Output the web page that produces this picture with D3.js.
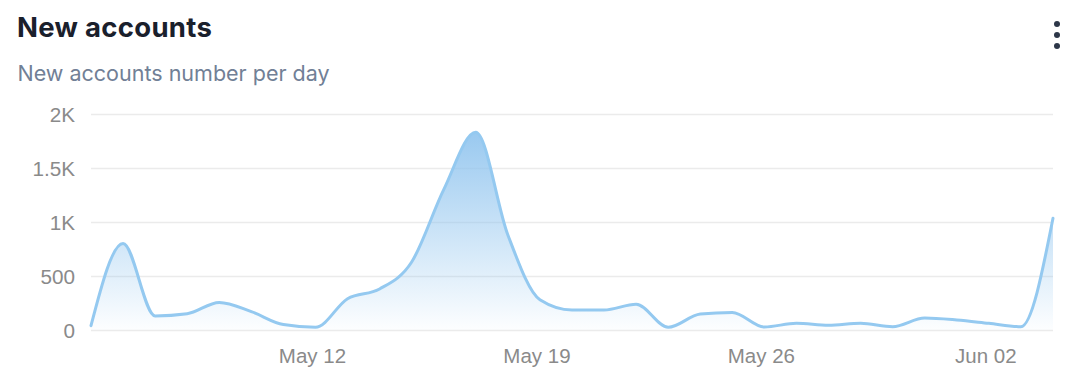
<!DOCTYPE html>
<html>
<head>
<meta charset="utf-8">
<script src="https://cdn.jsdelivr.net/npm/d3@7"></script>
<style>
  html, body { margin: 0; padding: 0; background: #fff; }
  svg { display: block; }
</style>
</head>
<body>
<svg id="chart" width="1080" height="384"></svg>
<script>
const title = "New accounts";
const subtitle = "New accounts number per day";
const startDate = "2024-05-05";
const values = [40, 800, 130, 150, 255, 170, 50, 25, 290, 380, 630, 1300, 1830, 880, 280,
                185, 185, 238, 25, 148, 163, 28, 62, 43, 62, 31, 111, 93, 62, 31, 1034];
const yTicks = [0, 500, 1000, 1500, 2000];
const yTickLabels = ["0", "500", "1K", "1.5K", "2K"];
const xTickDates = ["2024-05-12", "2024-05-19", "2024-05-26", "2024-06-02"];
const xTickLabels = ["May 12", "May 19", "May 26", "Jun 02"];

const parse = d3.utcParse("%Y-%m-%d");
const t0 = parse(startDate);
const data = values.map((v, i) => ({ date: d3.utcDay.offset(t0, i), value: v }));

const svg = d3.select("#chart");
const margin = { left: 91, right: 27, top: 114, bottom: 54 };
const W = 1080, H = 384;
const tickFont = "'Liberation Sans', Arial, Helvetica, sans-serif";

const x = d3.scaleUtc()
  .domain(d3.extent(data, d => d.date))
  .range([margin.left, W - margin.right]);
const y = d3.scaleLinear()
  .domain([0, 2000])
  .range([H - margin.bottom, margin.top]);

// Title & subtitle
svg.append("text").attr("x", 17).attr("y", 37)
  .attr("font-family", "Inter, sans-serif").attr("font-weight", 700)
  .attr("font-size", 27.5).attr("letter-spacing", 0.3).attr("fill", "#1a202c").text(title);
svg.append("text").attr("x", 17.5).attr("y", 81)
  .attr("font-family", "Inter, sans-serif").attr("font-weight", 400)
  .attr("font-size", 21.5).attr("fill", "#718096").text(subtitle);

// Menu dots
svg.append("g").selectAll("circle").data([24, 35, 46]).join("circle")
  .attr("cx", 1057).attr("cy", d => d).attr("r", 3).attr("fill", "#2d3748");

// Gridlines + y axis
const yAxis = d3.axisLeft(y).tickValues(yTicks)
  .tickFormat((d, i) => yTickLabels[i])
  .tickSize(-(W - margin.left - margin.right)).tickPadding(16);
const gy = svg.append("g").attr("transform", `translate(${margin.left},0)`).call(yAxis);
gy.select(".domain").remove();
gy.selectAll(".tick line").attr("stroke", "#ebebeb").attr("stroke-width", 1.5);
gy.selectAll(".tick text").attr("font-family", tickFont).attr("font-size", 20.7)
  .attr("dy", "0.36em").attr("fill", "#8a8a8a");

// X axis
const xAxis = d3.axisBottom(x).tickValues(xTickDates.map(parse))
  .tickFormat((d, i) => xTickLabels[i]).tickSize(0).tickPadding(18);
const gx = svg.append("g").attr("transform", `translate(0,${H - margin.bottom})`).call(xAxis);
gx.select(".domain").remove();
gx.selectAll(".tick text").attr("font-family", tickFont).attr("font-size", 20.5)
  .attr("fill", "#8a8a8a").attr("dx", -3.5);

// Gradient
const defs = svg.append("defs");
const grad = defs.append("linearGradient").attr("id", "areaGrad")
  .attr("x1", 0).attr("y1", 0).attr("x2", 0).attr("y2", 1);
grad.append("stop").attr("offset", "0%").attr("stop-color", "#8ec3ee").attr("stop-opacity", 0.9);
grad.append("stop").attr("offset", "100%").attr("stop-color", "#8ec3ee").attr("stop-opacity", 0.02);

const area = d3.area().curve(d3.curveMonotoneX)
  .x(d => x(d.date)).y0(y(0)).y1(d => y(d.value));
const line = d3.line().curve(d3.curveMonotoneX)
  .x(d => x(d.date)).y(d => y(d.value));

svg.append("path").datum(data).attr("d", area).attr("fill", "url(#areaGrad)");
svg.append("path").datum(data).attr("d", line).attr("fill", "none")
  .attr("stroke", "#94c9f0").attr("stroke-width", 3).attr("stroke-linejoin", "round")
  .attr("stroke-linecap", "round");
</script>
</body>
</html>
